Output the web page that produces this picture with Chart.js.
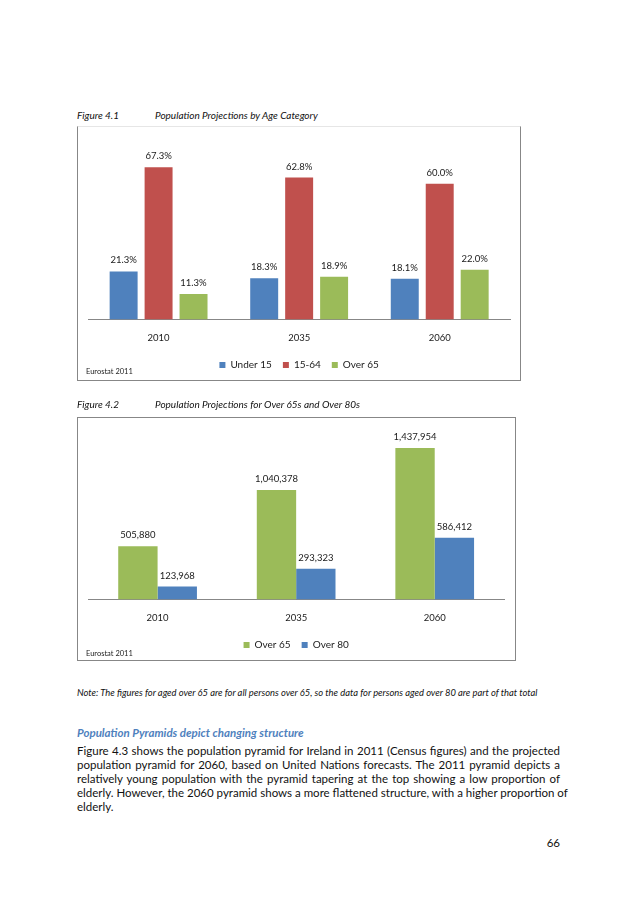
<!DOCTYPE html>
<html>
<head>
<meta charset="utf-8">
<script src="https://cdn.jsdelivr.net/npm/chart.js@4.4.1/dist/chart.umd.min.js"></script>
<style>
html, body { margin: 0; padding: 0; background: #fff; }
body { width: 638px; height: 903px; position: relative; overflow: hidden; font-family: Lato, "Open Sans", sans-serif; color: #111; }
.t { position: absolute; white-space: nowrap; }
.cap { font-style: italic; font-size: 10px; line-height: 12px; }
.box { position: absolute; border: 1px solid #878787; box-sizing: border-box; }
.box .wrap { position: absolute; left: 0; top: 0; }
.src { position: absolute; left: 8px; font-size: 7.5px; line-height: 10px; color: #222; white-space: nowrap; }
.para { position: absolute; left: 77px; width: 483px; font-size: 11.5px; line-height: 14px; white-space: nowrap; text-align: justify; text-align-last: justify; }
</style>
</head>
<body>

<div class="t cap" style="left:77px; top:109px;">Figure 4.1</div>
<div class="t cap" style="left:155px; top:109px;">Population Projections by Age Category</div>

<div class="box" style="left:77px; top:126px; width:444px; height:255px; border-top-color:#e6e6e6;">
  <div class="wrap" style="width:442px; height:253px;"><canvas id="chart1"></canvas></div>
  <div class="src" style="top:240px;">Eurostat 2011</div>
</div>

<div class="t cap" style="left:77px; top:398px;">Figure 4.2</div>
<div class="t cap" style="left:155px; top:398px;">Population Projections for Over 65s and Over 80s</div>

<div class="box" style="left:77px; top:417px; width:439px; height:244px;">
  <div class="wrap" style="width:437px; height:242px;"><canvas id="chart2"></canvas></div>
  <div class="src" style="top:231px;">Eurostat 2011</div>
</div>

<div class="t" style="left:77px; top:687px; font-size:9.4px; line-height:12px; font-style:italic;">Note: The figures for aged over 65 are for all persons over 65, so the data for persons aged over 80 are part of that total</div>

<div class="t" style="left:77px; top:726px; font-size:11.5px; line-height:14px; font-style:italic; font-weight:bold; color:#4f81bd;">Population Pyramids depict changing structure</div>

<div class="para" style="top:744px;">Figure 4.3 shows the population pyramid for Ireland in 2011 (Census figures) and the projected</div>
<div class="para" style="top:758px;">population pyramid for 2060, based on United Nations forecasts. The 2011 pyramid depicts a</div>
<div class="para" style="top:772px;">relatively young population with the pyramid tapering at the top showing a low proportion of</div>
<div class="para" style="top:786px;">elderly. However, the 2060 pyramid shows a more flattened structure, with a higher proportion of</div>
<div class="para" style="top:800px; text-align:left; text-align-last:left;">elderly.</div>

<div class="t" style="left:540px; width:20px; top:836px; font-size:11.5px; line-height:14px; text-align:right;">66</div>

<script>
// categories and values
const years = ['2010', '2035', '2060'];
const ageGroups = ['Under 15', '15-64', 'Over 65'];
const under15 = [21.3, 18.3, 18.1];
const age15to64 = [67.3, 62.8, 60.0];
const over65Share = [11.3, 18.9, 22.0];

const elderlyGroups = ['Over 65', 'Over 80'];
const over65Count = [505880, 1040378, 1437954];
const over80Count = [123968, 293323, 586412];

const BLUE = '#4f81bd', RED = '#c0504d', GREEN = '#9bbb59';
const TEXT = '#1a1a1a';

// value labels above each bar
function barLabels(format) {
    return {
        id: 'barLabels',
        afterDatasetsDraw(chart) {
            const ctx = chart.ctx;
            ctx.save();
            ctx.font = '9.5px Lato, "Open Sans", sans-serif';
            ctx.fillStyle = TEXT;
            ctx.textAlign = 'center';
            ctx.textBaseline = 'middle';
            chart.data.datasets.forEach((ds, i) => {
                chart.getDatasetMeta(i).data.forEach((bar, j) => {
                    ctx.fillText(format(ds.data[j]), bar.x, bar.y - 11);
                });
            });
            ctx.restore();
        }
    };
}

function baseOptions(yMax, pad) {
    return {
        responsive: true,
        maintainAspectRatio: false,
        animation: false,
        layout: { padding: pad },
        scales: {
            x: {
                grid: { display: false, drawTicks: false },
                border: { display: true, color: '#878787', width: 1 },
                ticks: { color: TEXT, padding: 12.5, font: { family: 'Lato', size: 9.5 } },
                afterFit: s => { s.height = 29.4; }
            },
            y: { display: false, min: 0, max: yMax }
        },
        plugins: {
            legend: {
                position: 'bottom',
                labels: {
                    boxWidth: 6, boxHeight: 6, padding: 11, color: TEXT,
                    font: { family: 'Lato', size: 10 }
                }
            },
            tooltip: { enabled: false }
        }
    };
}

const opts1 = baseOptions(80, { left: 10.3, right: 10, top: 11.6, bottom: 0 });
new Chart(document.getElementById('chart1'), {
    type: 'bar',
    data: {
        labels: years,
        datasets: [
            { label: ageGroups[0], data: under15, backgroundColor: BLUE },
            { label: ageGroups[1], data: age15to64, backgroundColor: RED },
            { label: ageGroups[2], data: over65Share, backgroundColor: GREEN }
        ]
    },
    options: Object.assign(opts1, {
        datasets: { bar: { categoryPercentage: 0.746, barPercentage: 0.8 } }
    }),
    plugins: [barLabels(v => v.toFixed(1) + '%')]
});

const opts2 = baseOptions(1600000, { left: 10.3, right: 11, top: 13, bottom: 0 });
new Chart(document.getElementById('chart2'), {
    type: 'bar',
    data: {
        labels: years,
        datasets: [
            { label: elderlyGroups[0], data: over65Count, backgroundColor: GREEN },
            { label: elderlyGroups[1], data: over80Count, backgroundColor: BLUE }
        ]
    },
    options: Object.assign(opts2, {
        datasets: { bar: { categoryPercentage: 0.568, barPercentage: 1.0 } }
    }),
    plugins: [barLabels(v => v.toLocaleString('en-US'))]
});
</script>
</body>
</html>
